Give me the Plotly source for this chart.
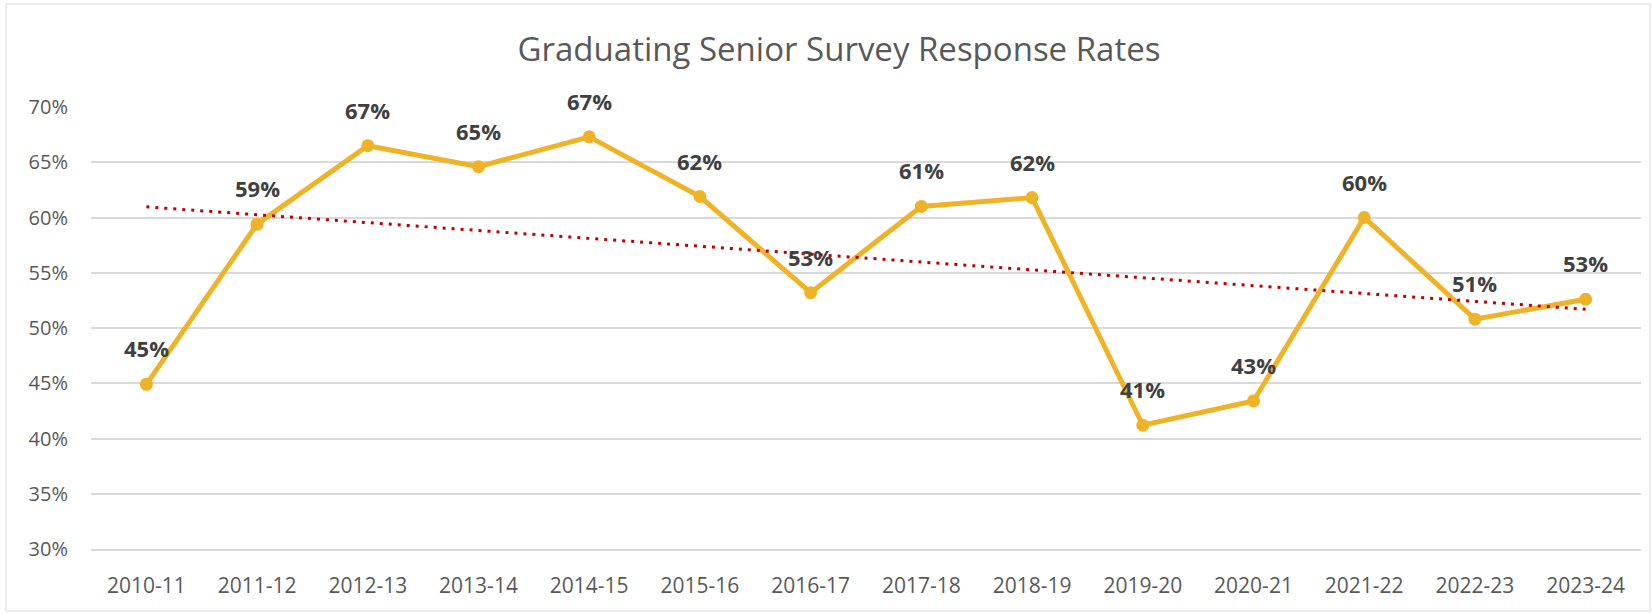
import numpy as np
import plotly.graph_objects as go

years = ["2010-11", "2011-12", "2012-13", "2013-14", "2014-15", "2015-16", "2016-17",
         "2017-18", "2018-19", "2019-20", "2020-21", "2021-22", "2022-23", "2023-24"]
response_rate = [44.9, 59.4, 66.5, 64.6, 67.3, 61.9, 53.2, 61.0, 61.8, 41.2, 43.4, 60.0, 50.8, 52.6]
y_ticks = [30, 35, 40, 45, 50, 55, 60, 65, 70]
y_tick_labels = ["30%", "35%", "40%", "45%", "50%", "55%", "60%", "65%", "70%"]
title_text = "Graduating Senior Survey Response Rates"

GOLD = "#EFB327"
GRID = "#D9D9D9"
TXT = "#595959"
FONT = "Open Sans"

# linear trendline (least squares on category index)
idx = np.arange(len(years))
slope, intercept = np.polyfit(idx, response_rate, 1)
trend = list(slope * idx + intercept)

fig = go.Figure()
fig.add_trace(go.Scatter(
    x=years, y=response_rate, mode="lines+markers",
    line=dict(color=GOLD, width=5), marker=dict(color=GOLD, size=13),
    hoverinfo="x+y", showlegend=False))
fig.add_trace(go.Scatter(
    x=[years[0], years[-1]], y=[trend[0], trend[-1]], mode="lines",
    line=dict(color="#C00000", width=3, dash="3px,6px"),
    hoverinfo="skip", showlegend=False))

for yr, v in zip(years, response_rate):
    fig.add_annotation(x=yr, y=v, text=f"{int(v + 0.5)}%", showarrow=False,
                       yshift=36, yanchor="middle",
                       font=dict(family=FONT, size=22, color="#404040", weight="bold"))

W, H = 1652, 613
L, R, T, B = 91, 11, 107, 64
pw, ph = W - L - R, H - T - B

fig.add_shape(type="rect", xref="paper", yref="paper",
              x0=(6 - L) / pw, x1=(W - 2 - L) / pw,
              y0=-(H - 2 - (T + ph)) / ph, y1=(T + ph - 4) / ph,
              line=dict(color=GRID, width=1), fillcolor="rgba(0,0,0,0)", layer="below")

fig.update_layout(
    width=W, height=H, autosize=False,
    margin=dict(l=L, r=R, t=T, b=B),
    paper_bgcolor="white", plot_bgcolor="white",
    title=dict(text=title_text, x=839 / W, xanchor="center", xref="container",
               y=1 - 49.5 / H, yanchor="middle", yref="container",
               font=dict(family=FONT, size=33, color=TXT)),
    xaxis=dict(type="category", range=[-0.5, len(years) - 0.5],
               showgrid=False, showline=True, linecolor=GRID, linewidth=1.5,
               ticks="", ticklabelstandoff=17,
               tickfont=dict(family=FONT, size=21, color=TXT), fixedrange=True),
    yaxis=dict(range=[30, 70], tickvals=y_ticks, ticktext=y_tick_labels,
               showgrid=True, gridcolor=GRID, gridwidth=1.5, zeroline=False,
               showline=False, ticks="", ticklabelstandoff=22,
               tickfont=dict(family=FONT, size=20, color=TXT), fixedrange=True),
)

fig.write_html("out.html", include_plotlyjs=True, full_html=True,
               config={"displayModeBar": False},
               post_script="document.body.style.margin='0';document.body.style.overflow='hidden';")
